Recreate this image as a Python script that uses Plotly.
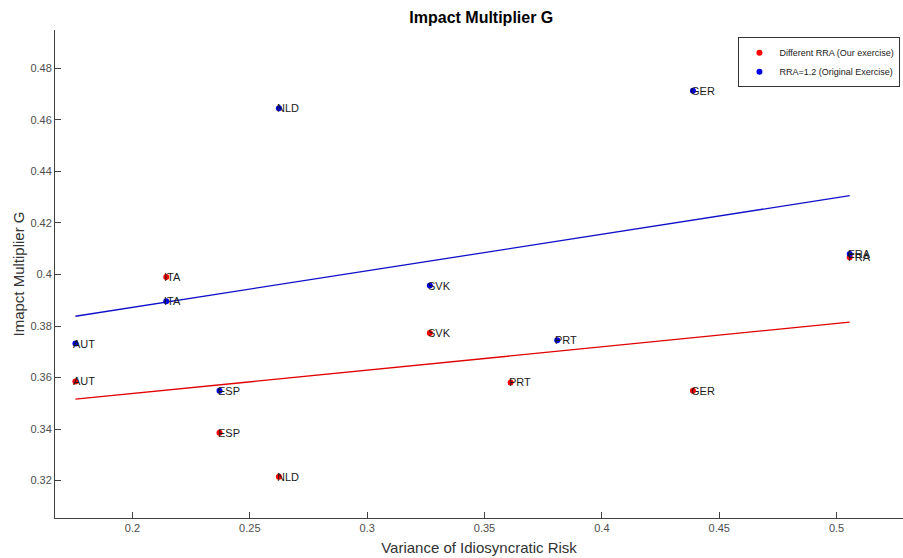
import plotly.graph_objects as go

countries = ["AUT", "ITA", "ESP", "NLD", "SVK", "PRT", "GER", "FRA"]

# Different RRA (Our exercise)
red_x = [0.1757, 0.2144, 0.2371, 0.2624, 0.3267, 0.3611, 0.4388, 0.5056]
red_y = [0.3585, 0.3990, 0.3386, 0.3215, 0.3773, 0.3581, 0.3549, 0.4067]

# RRA=1.2 (Original Exercise)
blue_x = [0.1757, 0.2144, 0.2371, 0.2624, 0.3267, 0.3810, 0.4388, 0.5056]
blue_y = [0.3732, 0.3896, 0.3549, 0.4645, 0.3957, 0.3745, 0.4713, 0.4080]

# fitted lines (endpoints)
fit_x = [0.1757, 0.5056]
red_fit_y = [0.3516, 0.3815]
blue_fit_y = [0.3838, 0.4306]

x_ticks = [0.2, 0.25, 0.3, 0.35, 0.4, 0.45, 0.5]
x_tick_text = ["0.2", "0.25", "0.3", "0.35", "0.4", "0.45", "0.5"]
y_ticks = [0.32, 0.34, 0.36, 0.38, 0.40, 0.42, 0.44, 0.46, 0.48]
y_tick_text = ["0.32", "0.34", "0.36", "0.38", "0.4", "0.42", "0.44", "0.46", "0.48"]

RED = "#ff0000"
BLUE = "#0000e6"
FONT = "Liberation Sans, Arial, sans-serif"

fig = go.Figure()

fig.add_trace(go.Scatter(x=fit_x, y=red_fit_y, mode="lines",
                         line=dict(color="#e00000", width=1.3), showlegend=False,
                         hoverinfo="skip"))
fig.add_trace(go.Scatter(x=fit_x, y=blue_fit_y, mode="lines",
                         line=dict(color="#1010c8", width=1.3), showlegend=False,
                         hoverinfo="skip"))

fig.add_trace(go.Scatter(x=red_x, y=red_y, mode="markers", name="Different RRA (Our exercise)",
                         marker=dict(color=RED, size=6)))
fig.add_trace(go.Scatter(x=blue_x, y=blue_y, mode="markers", name="RRA=1.2 (Original Exercise)",
                         marker=dict(color=BLUE, size=6)))

for xs, ys in ((red_x, red_y), (blue_x, blue_y)):
    for c, xv, yv in zip(countries, xs, ys):
        fig.add_annotation(x=xv, y=yv, text=c, showarrow=False, xanchor="left",
                           yanchor="middle", xshift=-4, yshift=0,
                           font=dict(family=FONT, size=11, color="#1a1a1a"))

axis_common = dict(showline=True, linecolor="#404040", linewidth=1, ticks="inside",
                   ticklen=6, tickcolor="#404040", tickwidth=1, showgrid=False,
                   zeroline=False, mirror=False,
                   tickfont=dict(family=FONT, size=11, color="#4d4d4d"))

fig.update_layout(
    width=903, height=558,
    margin=dict(l=55, r=0, t=30, b=40),
    paper_bgcolor="white", plot_bgcolor="white",
    title=dict(text="<b>Impact Multiplier G</b>", x=0.533, xanchor="center", y=0.969,
               yanchor="middle", font=dict(family=FONT, size=16, color="black")),
    xaxis=dict(range=[0.167, 0.5283], tickvals=x_ticks, ticktext=x_tick_text,
               title=dict(text="Variance of Idiosyncratic Risk", standoff=9,
                          font=dict(family=FONT, size=15, color="#333333")),
               **axis_common),
    yaxis=dict(range=[0.3055, 0.4949], tickvals=y_ticks, ticktext=y_tick_text,
               title=dict(text="Imapct Multiplier G", standoff=2,
                          font=dict(family=FONT, size=15, color="#333333")),
               **axis_common),
    legend=dict(x=0.997, y=0.985, xanchor="right", yanchor="top",
                bgcolor="white", bordercolor="#333333", borderwidth=1,
                font=dict(family=FONT, size=9, color="#1a1a1a"),
                tracegroupgap=0),
    showlegend=True,
)

fig.write_html("out.html")
